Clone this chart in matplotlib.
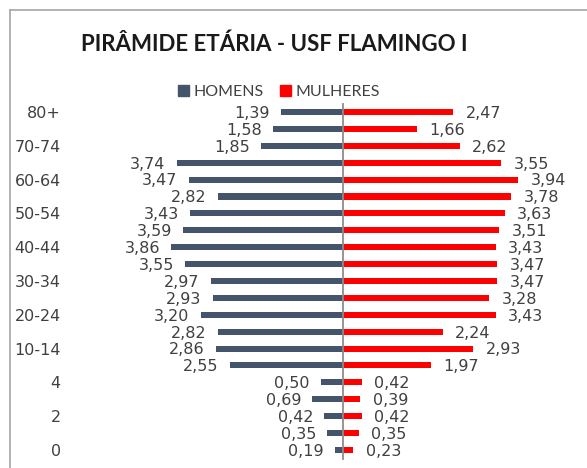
import matplotlib
matplotlib.use("Agg")
import matplotlib.pyplot as plt
from matplotlib.lines import Line2D
from matplotlib.patches import Patch

# Age groups, bottom to top
age_groups = [
    "0", "1", "2", "3", "4", "5-9", "10-14", "15-19", "20-24", "25-29",
    "30-34", "35-39", "40-44", "45-49", "50-54", "55-59", "60-64",
    "65-69", "70-74", "75-79", "80+",
]

# Percent of population, bottom to top
homens = [
    0.19, 0.35, 0.42, 0.69, 0.50, 2.55, 2.86, 2.82, 3.20, 2.93,
    2.97, 3.55, 3.86, 3.59, 3.43, 2.82, 3.47, 3.74, 1.85, 1.58, 1.39,
]
mulheres = [
    0.23, 0.35, 0.42, 0.39, 0.42, 1.97, 2.93, 2.24, 3.43, 3.28,
    3.47, 3.47, 3.43, 3.51, 3.63, 3.78, 3.94, 3.55, 2.62, 1.66, 2.47,
]

COLOR_MEN = "#44546a"
COLOR_WOMEN = "#ff0000"
TEXT_COLOR = "#404040"

W, H = 587, 468
fig = plt.figure(figsize=(W / 100, H / 100), dpi=100)
fig.patch.set_facecolor("white")

# axes placed in pixel terms
left_px, top_px = 65, 100
ax = fig.add_axes([left_px / W, 0, (W - left_px) / W, (H - top_px) / H])

center_px = 343
px_per_unit = 44.5
ax.set_xlim(-(center_px - left_px) / px_per_unit, (W - center_px) / px_per_unit)
ax.set_ylim(-1.07, 20.71)

y = list(range(len(age_groups)))
neg_men = [-v for v in homens]

ax.barh(y, neg_men, height=0.36, color=COLOR_MEN, label="HOMENS")
ax.barh(y, mulheres, height=0.36, color=COLOR_WOMEN, label="MULHERES")

ax.plot([0, 0], [-0.55, 20.45], color="#8c8c8c", linewidth=1.3, zorder=3)

for yi, m, f in zip(y, homens, mulheres):
    ax.annotate(f"{m:.2f}".replace(".", ","), xy=(-m, yi), xytext=(-8, -1),
                textcoords="offset points", ha="right", va="center",
                fontsize=11.5, color=TEXT_COLOR, family="DejaVu Sans")
    ax.annotate(f"{f:.2f}".replace(".", ","), xy=(f, yi), xytext=(9, -1),
                textcoords="offset points", ha="left", va="center",
                fontsize=11.5, color=TEXT_COLOR, family="DejaVu Sans")

ax.set_yticks(y[::2])
ax.set_yticklabels(age_groups[::2], fontsize=11.5, color=TEXT_COLOR,
                   family="DejaVu Sans")
ax.tick_params(axis="y", length=0, pad=3)
ax.set_xticks([])
for s in ax.spines.values():
    s.set_visible(False)

# title and legend
fig.text(274 / W, 1 - 44 / H, "PIRÂMIDE ETÁRIA - USF FLAMINGO I",
         ha="center", va="center", fontsize=16, fontweight="bold",
         family="Lato", color="#1a1a1a")

handles = [Patch(color=COLOR_MEN), Patch(color=COLOR_WOMEN)]
fig.legend(handles, ["HOMENS", "MULHERES"], loc="center",
           bbox_to_anchor=(279 / W, 1 - 92 / H), ncol=2, frameon=False,
           prop={"family": "Lato", "size": 11.5}, handlelength=0.7,
           handleheight=0.7, handletextpad=0.3, columnspacing=1.0,
           labelcolor=TEXT_COLOR)

# chart frame (cropped at right and bottom)
fig.add_artist(Line2D([10 / W, 1], [1 - 10 / H, 1 - 10 / H],
                      color="#a6a6a6", linewidth=1.2))
fig.add_artist(Line2D([10 / W, 10 / W], [0, 1 - 10 / H],
                      color="#a6a6a6", linewidth=1.2))

fig.savefig("out.png", dpi=100)
